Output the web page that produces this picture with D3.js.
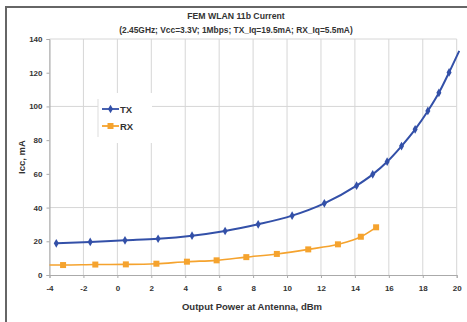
<!DOCTYPE html>
<html>
<head>
<meta charset="utf-8">
<script src="https://cdn.jsdelivr.net/npm/d3@7"></script>
<style>
  body { margin: 0; background: #fff; }
  text { font-family: "Liberation Sans", Arial, sans-serif; font-weight: bold; fill: #333; }
</style>
</head>
<body>
<div id="chart"></div>
<script>
// data
const txPower = [-3.6, -1.6, 0.45, 2.4, 4.4, 6.35, 8.3, 10.3, 12.2, 14.1, 15.05, 15.9, 16.75, 17.55, 18.3, 18.95, 19.55, 20.15];
const txCurrent = [18.8, 19.6, 20.6, 21.5, 23.3, 26.1, 30.1, 35.2, 42.5, 53.0, 59.7, 67.2, 76.5, 86.4, 97.3, 108.1, 120.2, 133];
const rxPower = [-4.6, -3.2, -1.3, 0.5, 2.3, 4.1, 5.85, 7.6, 9.4, 11.25, 13.0, 14.35, 15.25];
const rxCurrent = [5.9, 5.9, 6.2, 6.3, 6.7, 7.9, 8.7, 10.6, 12.5, 15.2, 18.2, 22.7, 28.3];
const xTicks = [-4, -2, 0, 2, 4, 6, 8, 10, 12, 14, 16, 18, 20];
const yTicks = [0, 20, 40, 60, 80, 100, 120, 140];
const yGrid = [40, 100, 140];

const W = 467, H = 322;
const margin = { top: 39, right: 10, bottom: 47, left: 49.5 };
const width = 456.7 - margin.left, height = 275 - margin.top;

const svg = d3.select("#chart").append("svg")
  .attr("width", W).attr("height", H);

// photo frame (top and left edge)
svg.append("path")
  .attr("d", "M6,322V7H467")
  .attr("fill", "none").attr("stroke", "#666").attr("stroke-width", 2);

// titles
svg.append("text").attr("x", 236).attr("y", 19).attr("text-anchor", "middle")
  .style("font-size", "8.7px").text("FEM WLAN 11b Current");
svg.append("text").attr("x", 236).attr("y", 33).attr("text-anchor", "middle")
  .style("font-size", "8.4px").text("(2.45GHz; Vcc=3.3V; 1Mbps; TX_Iq=19.5mA; RX_Iq=5.5mA)");

const g = svg.append("g").attr("transform", `translate(${margin.left},${margin.top})`);

const x = d3.scaleLinear().domain([-4, 20]).range([0, width]);
const y = d3.scaleLinear().domain([0, 140]).range([height, 0]);

// vertical grid
g.selectAll(".vgrid").data(xTicks).enter().append("line")
  .attr("x1", d => x(d)).attr("x2", d => x(d))
  .attr("y1", 0).attr("y2", height)
  .attr("stroke", "#d6d6d6").attr("stroke-width", 1);
// horizontal grid
g.selectAll(".hgrid").data(yGrid).enter().append("line")
  .attr("x1", 0).attr("x2", width)
  .attr("y1", d => y(d)).attr("y2", d => y(d))
  .attr("stroke", "#d6d6d6").attr("stroke-width", 1);

// axes
const xAxis = g.append("g").attr("transform", `translate(0,${height})`)
  .call(d3.axisBottom(x).tickValues(xTicks).tickFormat(d => String(d)).tickSize(3).tickPadding(7));
const yAxis = g.append("g")
  .call(d3.axisLeft(y).tickValues(yTicks).tickFormat(d => String(d)).tickSize(3).tickPadding(4));
[xAxis, yAxis].forEach(a => {
  a.select(".domain").attr("stroke", "#aaa");
  a.selectAll(".tick line").attr("stroke", "#aaa");
  a.selectAll("text").style("font-size", "8px").style("font-family", "Liberation Sans, Arial, sans-serif")
    .attr("fill", "#333").style("font-weight", "bold");
});

// axis titles
svg.append("text").attr("x", 252).attr("y", 310).attr("text-anchor", "middle")
  .style("font-size", "9.5px").text("Output Power at Antenna, dBm");
svg.append("text").attr("transform", "translate(25,157) rotate(-90)").attr("text-anchor", "middle")
  .style("font-size", "9.5px").text("Icc, mA");

// clip for lines
g.append("clipPath").attr("id", "clip").append("rect")
  .attr("x", 0).attr("y", -15).attr("width", width + 4).attr("height", height + 15);

const tx = txPower.map((p, i) => ({ x: p, y: txCurrent[i] }));
const rx = rxPower.map((p, i) => ({ x: p, y: rxCurrent[i] }));

const line = d3.line().x(d => x(d.x)).y(d => y(d.y)).curve(d3.curveMonotoneX);

const txColor = "#3350a8", rxColor = "#f5a32e";

g.append("path").datum(rx).attr("clip-path", "url(#clip)")
  .attr("d", line).attr("fill", "none").attr("stroke", rxColor).attr("stroke-width", 1.6);
g.append("path").datum(tx).attr("clip-path", "url(#clip)")
  .attr("d", line).attr("fill", "none").attr("stroke", txColor).attr("stroke-width", 2);

const inside = d => d.x >= -4 && d.x <= 20;
g.selectAll(".rxm").data(rx.filter(inside)).enter().append("rect")
  .attr("x", d => x(d.x) - 3).attr("y", d => y(d.y) - 3)
  .attr("width", 6).attr("height", 6).attr("fill", rxColor);
const diamond = d3.symbol().type(d3.symbolDiamond).size(22);
g.selectAll(".txm").data(tx.filter(inside)).enter().append("path")
  .attr("transform", d => `translate(${x(d.x)},${y(d.y)})`)
  .attr("d", diamond).attr("fill", txColor);

// legend
const leg = svg.append("g").attr("transform", "translate(98,93)");
leg.append("rect").attr("width", 54).attr("height", 50).attr("fill", "#fff");
leg.append("line").attr("x1", 0).attr("x2", 0).attr("y1", 6).attr("y2", 44)
  .attr("stroke", "#ddd");
const items = [{ name: "TX", color: txColor }, { name: "RX", color: rxColor }];
items.forEach((it, i) => {
  const yy = 16 + i * 17;
  leg.append("line").attr("x1", 4).attr("x2", 21).attr("y1", yy).attr("y2", yy)
    .attr("stroke", it.color).attr("stroke-width", 1.8);
  if (it.name === "TX") {
    leg.append("path").attr("transform", `translate(12.5,${yy})`).attr("d", diamond).attr("fill", it.color);
  } else {
    leg.append("rect").attr("x", 9.5).attr("y", yy - 3).attr("width", 6).attr("height", 6).attr("fill", it.color);
  }
  leg.append("text").attr("x", 22).attr("y", yy + 3.5).style("font-size", "9.5px").text(it.name);
});
</script>
</body>
</html>
